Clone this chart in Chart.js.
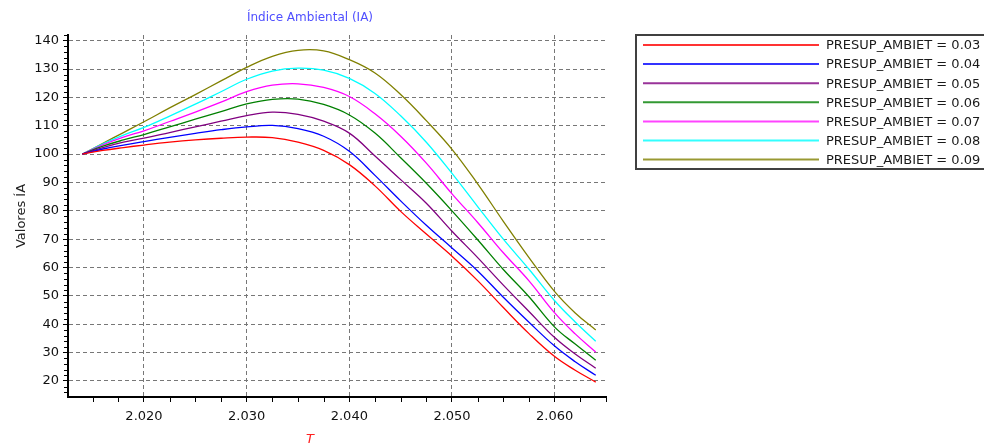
<!DOCTYPE html>
<html>
<head>
<meta charset="utf-8">
<script src="https://cdn.jsdelivr.net/npm/chart.js@4.4.1/dist/chart.umd.min.js"></script>
<style>
  html, body { margin: 0; padding: 0; background: #ffffff; }
</style>
</head>
<body>
<canvas id="ia-chart" width="984" height="446"></canvas>
<script>
var tValues = [2.014, 2.016, 2.018, 2.020, 2.0225, 2.025, 2.0275, 2.030, 2.0325, 2.035, 2.0375,
               2.040, 2.0425, 2.045, 2.0475, 2.050, 2.0525, 2.055, 2.0575, 2.060, 2.062, 2.064];

var seriesLabels = ['PRESUP_AMBIET = 0.03', 'PRESUP_AMBIET = 0.04', 'PRESUP_AMBIET = 0.05',
                    'PRESUP_AMBIET = 0.06', 'PRESUP_AMBIET = 0.07', 'PRESUP_AMBIET = 0.08',
                    'PRESUP_AMBIET = 0.09'];

var ia003 = [100, 101.3, 102.3, 103.2, 104.2, 105.0, 105.6, 106.0, 105.8, 104.2, 101.3,
             96.3, 88.8, 79.8, 71.8, 64.0, 55.4, 45.9, 36.7, 28.6, 23.8, 19.6];
var ia004 = [100, 101.8, 103.2, 104.4, 105.9, 107.3, 108.6, 109.6, 110.1, 109.0, 106.3,
             101.0, 92.5, 83.5, 74.9, 66.9, 58.8, 49.5, 40.7, 32.3, 26.8, 22.0];
var ia005 = [100, 102.3, 104.2, 105.6, 107.6, 109.6, 111.6, 113.6, 114.8, 114.0, 111.6,
             107.4, 99.3, 91.0, 82.7, 72.8, 63.5, 53.8, 44.5, 35.3, 29.5, 24.5];
var ia006 = [100, 102.8, 105.0, 106.9, 109.6, 112.3, 115.0, 117.7, 119.3, 119.4, 117.5,
             113.8, 107.4, 98.7, 89.7, 80.0, 69.8, 59.3, 49.7, 39.0, 33.0, 27.3];
var ia007 = [100, 103.3, 106.0, 108.2, 111.5, 114.8, 118.3, 122.0, 124.3, 124.8, 123.5,
             120.3, 114.2, 106.3, 96.8, 86.0, 75.9, 65.2, 55.3, 44.0, 36.6, 30.2];
var ia008 = [100, 103.6, 106.7, 109.4, 113.4, 117.6, 122.0, 126.4, 129.3, 130.3, 129.6,
             126.7, 121.4, 113.5, 104.2, 93.2, 81.5, 70.0, 59.4, 48.3, 40.8, 34.0];
var ia009 = [100, 103.8, 107.6, 111.4, 116.3, 121.0, 125.8, 130.6, 134.5, 136.6, 136.4,
             133.3, 128.6, 121.0, 111.8, 101.7, 89.5, 76.3, 63.5, 51.5, 44.0, 38.0];

var allSeries = [ia003, ia004, ia005, ia006, ia007, ia008, ia009];
var lineColors = ['#ff0000', '#0000ff', '#800080', '#008000', '#ff00ff', '#00ffff', '#808000'];
var legendColors = ['#ff3333', '#3333ff', '#993399', '#339933', '#ff44ff', '#33ffff', '#999933'];

var FONT = '"DejaVu Sans", Verdana, sans-serif';

function toPoints(vals) {
  var pts = [];
  for (var i = 0; i < tValues.length; i++) {
    pts.push({x: tValues[i], y: vals[i]});
  }
  return pts;
}

var datasets = [];
for (var i = 0; i < allSeries.length; i++) {
  datasets.push({
    label: seriesLabels[i],
    data: toPoints(allSeries[i]),
    borderColor: lineColors[i],
    borderWidth: 1.3,
    pointRadius: 0,
    fill: false,
    tension: 0.4
  });
}

// minor ticks, titles and the boxed legend on the right
var extras = {
  id: 'extras',
  afterDraw: function(chart) {
    var ctx = chart.ctx, a = chart.chartArea;
    var xs = chart.scales.x, ys = chart.scales.y;
    ctx.save();
    ctx.strokeStyle = '#000';
    ctx.lineWidth = 1;
    ctx.beginPath();
    for (var v = 16; v <= 142; v += 2) {
      if (v % 10 === 0) continue;
      var py = Math.round(ys.getPixelForValue(v)) + 0.5;
      ctx.moveTo(a.left - 4, py);
      ctx.lineTo(a.left - 1, py);
    }
    for (var k = 6; k <= 26; k++) {
      if (k % 4 === 0) continue;
      var px = Math.round(xs.getPixelForValue(2 + k * 0.0025)) + 0.5;
      ctx.moveTo(px, a.bottom + 1);
      ctx.lineTo(px, a.bottom + 5);
    }
    ctx.stroke();

    ctx.textAlign = 'center';
    ctx.textBaseline = 'middle';
    ctx.fillStyle = '#4f4fff';
    ctx.font = '12px ' + FONT;
    ctx.fillText('Índice Ambiental (IA)', 310, 18);
    ctx.fillStyle = '#ff2020';
    ctx.font = 'italic 13px ' + FONT;
    ctx.fillText('T', 310, 440);

    ctx.strokeStyle = '#404040';
    ctx.lineWidth = 2;
    ctx.strokeRect(636, 35, 360, 134);
    ctx.textAlign = 'left';
    ctx.font = '13px ' + FONT;
    ctx.fillStyle = '#1a1a1a';
    for (var j = 0; j < chart.data.datasets.length; j++) {
      var ly = 45 + j * 19.1;
      ctx.strokeStyle = legendColors[j];
      ctx.beginPath();
      ctx.moveTo(643, ly);
      ctx.lineTo(819, ly);
      ctx.stroke();
      ctx.fillText(chart.data.datasets[j].label, 826, ly + 1);
    }
    ctx.restore();
  }
};

var ctx = document.getElementById('ia-chart').getContext('2d');
var iaChart = new Chart(ctx, {
  type: 'line',
  data: {datasets: datasets},
  options: {
    responsive: false,
    animation: false,
    devicePixelRatio: 1,
    layout: {padding: {top: 35, right: 378, bottom: 0, left: 0}},
    plugins: {
      legend: {display: false},
      title: {display: false},
      tooltip: {enabled: false}
    },
    scales: {
      x: {
        type: 'linear',
        min: 2.0126,
        max: 2.065,
        afterFit: function(s) { s.height = 49; },
        ticks: {
          stepSize: 0.01,
          includeBounds: false,
          padding: 7,
          color: '#111',
          font: {family: FONT, size: 13},
          callback: function(v) { return v.toFixed(3); }
        },
        grid: {color: '#777777', tickColor: '#000', tickLength: 5},
        border: {color: '#000', width: 2, dash: [4, 3]}
      },
      y: {
        min: 14.35,
        max: 142,
        afterFit: function(s) { s.width = 68; },
        ticks: {
          stepSize: 10,
          includeBounds: false,
          padding: 4,
          color: '#111',
          font: {family: FONT, size: 13}
        },
        grid: {color: '#777777', tickColor: '#000', tickLength: 5},
        border: {color: '#000', width: 2, dash: [4, 3]},
        title: {
          display: true,
          text: 'Valores ÍA',
          color: '#222',
          font: {family: FONT, size: 13},
          padding: {top: 14, bottom: 0}
        }
      }
    }
  },
  plugins: [extras]
});
</script>
</body>
</html>
